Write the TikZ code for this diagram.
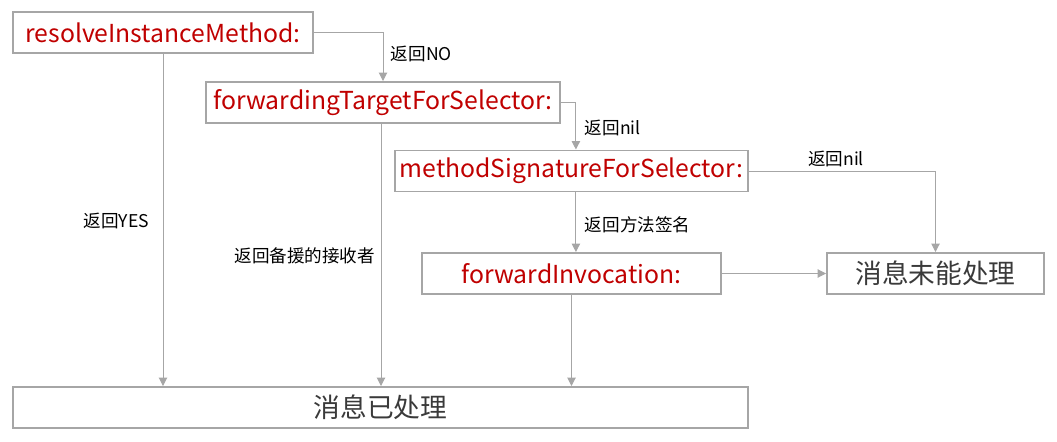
\documentclass[tikz,border=0pt]{standalone}
\usepackage{fontspec}
\setmainfont{Noto Sans CJK SC}
\usepackage{tikz}
\usetikzlibrary{
arrows.meta,
positioning,
calc
}
\definecolor{msgred}{HTML}{C00000}
\definecolor{msggray}{HTML}{A6A6A6}
\definecolor{msgtext}{HTML}{3A3A3A}

\begin{document}
\begin{tikzpicture}[
  >={Triangle[length=6pt,width=6pt]},
  every node/.style={font=\fontsize{19}{21}\selectfont},
  box/.style={draw=msggray, line width=1.4pt, fill=white,
              minimum height=1.025cm, inner sep=0pt},
  method/.style={box, text=msgred, font=\fontsize{17.6}{20}\selectfont},
  result/.style={box, text=msgtext},
  arrow/.style={->, draw=msggray, line width=0.7pt},
  lbl/.style={font=\fontsize{12.5}{14}\selectfont, text=black}
]
\useasboundingbox (0,0) rectangle (26.425,11.025);

%% Method chain
\node[method, minimum width=7.5cm] (resolve) at (4.075,10.2125)
  {resolveInstanceMethod:};
\node[method, minimum width=8.85cm] (fwdtarget) at (9.575,8.4625)
  {forwardingTargetForSelector:};
\node[method, minimum width=8.825cm] (signature) at (14.2875,6.75)
  {methodSignatureForSelector:};
\node[method, minimum width=7.475cm] (invocation) at (14.2875,4.1875)
  {forwardInvocation:};

%% Results
\node[result, minimum width=5.425cm] (failed) at (23.3875,4.1875)
  {消息未能处理};
\node[result, minimum width=18.375cm] (handled) at (9.5125,0.8375)
  {消息已处理};

%% Forward path
\draw[arrow] (resolve.east) -| (fwdtarget.north);
\node[lbl, anchor=west] at (9.65,9.675) {返回NO};

\draw[arrow] (fwdtarget.east) -| ([xshift=0.11cm]signature.north);
\node[lbl, anchor=west] at (14.5,7.825) {返回nil};

\draw[arrow] ([xshift=0.11cm]signature.south)
  -- ([xshift=0.11cm]invocation.north);
\node[lbl, anchor=west] at (14.5,5.4) {返回方法签名};

\draw[arrow] (signature.east) -| (failed.north);
\node[lbl] at (20.9,7.05) {返回nil};

\draw[arrow] (invocation.east) -- (failed.west);

%% Handled
\draw[arrow] (resolve.south) -- (resolve.south |- handled.north);
\node[lbl, anchor=east] at (3.85,5.5) {返回YES};

\draw[arrow] ([xshift=-0.05cm]fwdtarget.south)
  -- ([xshift=-0.05cm]fwdtarget.south |- handled.north);
\node[lbl, anchor=east] at (9.5,4.625) {返回备援的接收者};

\draw[arrow] (invocation.south) -- (invocation.south |- handled.north);

\end{tikzpicture}
\end{document}
